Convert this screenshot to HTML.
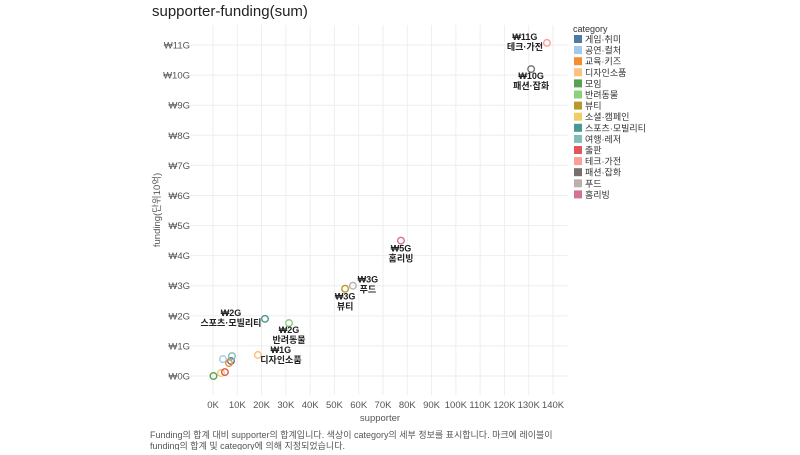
<!DOCTYPE html>
<html><head><meta charset="utf-8"><style>
body{margin:0;background:#fff;font-family:"Liberation Sans","Noto Sans CJK KR",sans-serif}
svg text{font-family:"Liberation Sans","Noto Sans CJK KR",sans-serif}
</style></head><body>
<svg width="800" height="450">
<text x="152" y="16" font-size="15" fill="#222">supporter-funding(sum)</text>
<g id="grid"></g><g id="axes"></g><g id="marks"></g><g id="labels"></g><g id="legend"></g>
<text x="380" y="421" font-size="9.5" fill="#555" text-anchor="middle">supporter</text>
<text transform="translate(160,210) rotate(-90)" font-size="9.5" fill="#555" text-anchor="middle">funding(단위10억)</text>
<text x="150" y="438" font-size="9" fill="#555">Funding의 합계 대비 supporter의 합계입니다.  색상이 category의 세부 정보를 표시합니다. 마크에 레이블이</text>
<text x="150" y="449" font-size="9" fill="#555">funding의 합계 및 category에 의해 지정되었습니다.</text>
</svg>
<script>
const categories=["게임·취미","공연·컬처","교육·키즈","디자인소품","모임","반려동물","뷰티","소셜·캠페인","스포츠·모빌리티","여행·레저","출판","테크·가전","패션·잡화","푸드","홈리빙"];
const supporters=[7.4,4.1,6.6,18.5,0.2,31.3,54.4,3.3,21.4,7.8,4.9,137.5,131,57.6,77.4];
const funding=[0.5,0.56,0.43,0.7,0.0,1.76,2.9,0.1,1.9,0.66,0.13,11.07,10.2,3.0,4.5];
const colors=["#4e79a7","#a0cbe8","#f28e2b","#ffbe7d","#59a14f","#8cd17d","#b6992d","#f1ce63","#499894","#86bcb6","#e15759","#ff9d9a","#79706e","#bab0ac","#d37295"];
const xTicks=[0,10,20,30,40,50,60,70,80,90,100,110,120,130,140];
const yTicks=[0,1,2,3,4,5,6,7,8,9,10,11];
const labeled={3:"₩1G",5:"₩2G",6:"₩3G",8:"₩2G",11:"₩11G",12:"₩10G",13:"₩3G",14:"₩5G"};
const lblOff={3:[23,-5],5:[0,7],6:[0,8],8:[-34,-6],11:[-22,-6],12:[0,7],13:[15,-6],14:[0,8]};
const X=v=>213+v*2.4286, Y=v=>376-v*30.09;
const NS="http://www.w3.org/2000/svg";
function mk(p,t,a){const e=document.createElementNS(NS,t);for(const k in a)e.setAttribute(k,a[k]);document.getElementById(p).appendChild(e);return e;}
xTicks.forEach(t=>{const l=mk("grid","line",{x1:X(t),x2:X(t),y1:25,y2:395,stroke:"#eee"});


const tx=mk("axes","text",{x:X(t),y:408,"font-size":9.5,fill:"#555","text-anchor":"middle"});tx.textContent=t+"K";

});
yTicks.forEach(t=>{const l=mk("grid","line",{x1:190,x2:568,y1:Y(t),y2:Y(t),stroke:"#eee"});


const tx=mk("axes","text",{x:190,y:Y(t)+3.5,"font-size":9.5,fill:"#555","text-anchor":"end"});tx.textContent="₩"+t+"G";

});
categories.forEach((c,i)=>{
const cx=X(supporters[i]),cy=Y(funding[i]);
const p=mk("marks","circle",{cx:cx,cy:cy,r:3.3,fill:"none",stroke:colors[i],"stroke-width":1.4});


if(labeled[i]){const o=lblOff[i];
const t=mk("labels","text",{x:cx+o[0],y:cy+o[1]+3,"font-size":9,fill:"#222","text-anchor":"middle","font-weight":"bold"});


const a=document.createElementNS(NS,"tspan");a.setAttribute("x",cx+o[0]);a.textContent=labeled[i];t.appendChild(a);
const b=document.createElementNS(NS,"tspan");b.setAttribute("x",cx+o[0]);b.setAttribute("dy",10);b.textContent=c;t.appendChild(b);}
const ly=39+i*11.1;
const r=mk("legend","rect",{x:574,y:ly-4,width:8,height:8,fill:colors[i]});


const lt=mk("legend","text",{x:585,y:ly+3.5,"font-size":9,fill:"#333"});lt.textContent=c;


});
const lh=mk("legend","text",{x:573,y:32,"font-size":9,fill:"#333"});lh.textContent="category";


</script>
</body></html>
